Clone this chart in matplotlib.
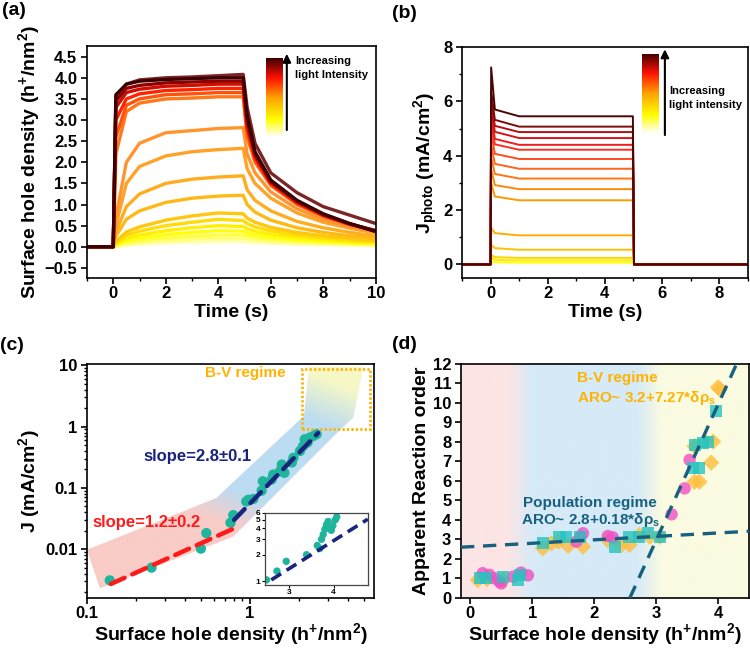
import numpy as np
import matplotlib.pyplot as plt
from matplotlib.colors import LinearSegmentedColormap, to_rgb
from matplotlib.patches import Polygon, Rectangle
from matplotlib.ticker import MultipleLocator, NullFormatter, NullLocator

plt.rcParams['font.family'] = ['Liberation Sans', 'DejaVu Sans']
plt.rcParams['font.weight'] = 'bold'
plt.rcParams['axes.labelweight'] = 'bold'
plt.rcParams['mathtext.fontset'] = 'custom'
plt.rcParams['mathtext.rm'] = 'Liberation Sans:bold'
plt.rcParams['mathtext.bf'] = 'Liberation Sans:bold'
plt.rcParams['mathtext.it'] = 'Liberation Sans:bold'
plt.rcParams['mathtext.default'] = 'bf'
plt.rcParams['axes.linewidth'] = 1.2
for ax_name in ['xtick', 'ytick']:
    plt.rcParams[ax_name + '.major.width'] = 1.2
    plt.rcParams[ax_name + '.minor.width'] = 1.0
    plt.rcParams[ax_name + '.major.size'] = 4
    plt.rcParams[ax_name + '.minor.size'] = 2.5
    plt.rcParams[ax_name + '.labelsize'] = 12
plt.rcParams['xtick.major.pad'] = 2
plt.rcParams['ytick.major.pad'] = 3
plt.rcParams['axes.labelsize'] = 14
plt.rcParams['axes.labelpad'] = 2

# ---------------- data ----------------
# (a) surface hole density traces (low -> high light intensity), read at t_a (s)
t_a = [0.1, 0.5, 1, 2, 3, 4, 4.95, 5.1, 5.4, 6, 7, 8, 9, 10]
sd_traces = [
    [0.01, 0.04, 0.06, 0.09, 0.11, 0.12, 0.12, 0.11, 0.10, 0.08, 0.06, 0.05, 0.04, 0.03],
    [0.02, 0.07, 0.10, 0.15, 0.18, 0.20, 0.20, 0.18, 0.16, 0.13, 0.10, 0.08, 0.06, 0.05],
    [0.03, 0.10, 0.15, 0.21, 0.25, 0.28, 0.28, 0.25, 0.22, 0.18, 0.14, 0.11, 0.08, 0.06],
    [0.05, 0.15, 0.21, 0.29, 0.34, 0.38, 0.37, 0.33, 0.29, 0.23, 0.17, 0.13, 0.10, 0.08],
    [0.07, 0.20, 0.28, 0.38, 0.45, 0.50, 0.48, 0.43, 0.37, 0.30, 0.22, 0.17, 0.13, 0.10],
    [0.10, 0.27, 0.37, 0.50, 0.58, 0.65, 0.62, 0.55, 0.47, 0.38, 0.28, 0.21, 0.16, 0.12],
    [0.13, 0.35, 0.47, 0.63, 0.73, 0.80, 0.78, 0.68, 0.58, 0.46, 0.34, 0.26, 0.20, 0.15],
    [0.25, 0.65, 0.85, 1.05, 1.15, 1.20, 1.22, 1.00, 0.82, 0.63, 0.45, 0.34, 0.26, 0.20],
    [0.35, 0.95, 1.25, 1.50, 1.60, 1.65, 1.68, 1.35, 1.10, 0.85, 0.60, 0.45, 0.34, 0.26],
    [0.50, 1.50, 1.90, 2.15, 2.25, 2.30, 2.33, 1.85, 1.50, 1.15, 0.80, 0.58, 0.44, 0.33],
    [0.70, 2.00, 2.45, 2.70, 2.75, 2.80, 2.82, 2.20, 1.75, 1.30, 0.90, 0.65, 0.48, 0.36],
    [2.20, 3.20, 3.40, 3.50, 3.52, 3.55, 3.55, 2.60, 2.00, 1.45, 1.00, 0.72, 0.52, 0.38],
    [2.60, 3.35, 3.50, 3.60, 3.62, 3.65, 3.65, 2.70, 2.05, 1.48, 1.02, 0.73, 0.53, 0.38],
    [3.00, 3.50, 3.62, 3.70, 3.72, 3.75, 3.75, 2.80, 2.10, 1.50, 1.04, 0.74, 0.54, 0.38],
    [3.30, 3.65, 3.73, 3.80, 3.82, 3.85, 3.85, 2.90, 2.15, 1.52, 1.06, 0.75, 0.54, 0.38],
    [3.45, 3.75, 3.82, 3.88, 3.90, 3.92, 3.92, 3.00, 2.20, 1.55, 1.08, 0.77, 0.55, 0.37],
    [3.60, 3.85, 3.92, 3.96, 3.98, 4.00, 4.00, 3.10, 2.25, 1.58, 1.10, 0.78, 0.55, 0.36],
]
sd_top_brown = [3.55, 3.85, 3.95, 4.00, 4.02, 4.05, 4.08, 3.30, 2.45, 1.75, 1.28, 0.95, 0.75, 0.55]

# (b) photocurrent: peak at switch-on, value at 0.15 s, steady value
j_steady = [0.07, 0.15, 0.24, 0.54, 1.07, 2.36, 2.77, 3.16, 3.52, 3.88, 4.22, 4.40, 4.65, 4.87, 5.07, 5.45]
j_early = [0.08, 0.17, 0.27, 0.60, 1.15, 2.50, 2.92, 3.33, 3.70, 4.07, 4.42, 4.62, 4.88, 5.10, 5.32, 5.70]
j_peak = [0.12, 0.25, 0.35, 0.72, 1.35, 3.00, 3.50, 3.95, 4.40, 4.85, 5.20, 5.50, 5.80, 6.10, 6.40, 7.25]

# (c) J vs surface hole density
rho_c = [0.138, 0.249, 0.50, 0.54, 0.76, 0.79, 0.95, 0.98, 1.05, 1.18, 1.20, 1.36, 1.39,
         1.53, 1.57, 1.63, 1.81, 1.85, 2.03, 2.12, 2.17, 2.22, 2.26, 2.33, 2.45, 2.57]
j_c = [0.0031, 0.0050, 0.0102, 0.0183, 0.027, 0.036, 0.060, 0.064, 0.066, 0.090, 0.128, 0.137, 0.165,
       0.187, 0.24, 0.176, 0.26, 0.31, 0.40, 0.48, 0.62, 0.62, 0.55, 0.66, 0.70, 0.75]
fit_low = (0.0286, 1.2, 0.14, 0.78)    # prefactor, slope, x from, x to
fit_high = (0.0554, 2.75, 0.80, 2.62)
# inset
ins_x = [2.60, 2.78, 2.95, 3.36, 3.60, 3.66, 3.70, 3.74, 3.78, 3.82, 3.86, 3.90, 3.94, 3.98, 4.04, 4.08]
ins_y = [1.03, 1.30, 1.68, 2.00, 2.55, 2.35, 3.00, 3.40, 3.90, 4.40, 4.80, 4.10, 3.80, 4.30, 5.00, 5.40]
ins_fit = (1.03, 2.68, 2.58, 4.98)     # y at x0, x0, slope, x end

# (d) apparent reaction order
circ_x = [0.20, 0.31, 0.39, 0.47, 0.50, 0.69, 0.82, 0.93, 1.71, 1.82, 1.78, 2.22, 2.30, 3.25, 3.46, 3.54]
circ_y = [1.27, 1.18, 1.01, 0.84, 0.75, 1.09, 1.30, 1.16, 2.89, 3.32, 3.14, 3.18, 3.11, 4.29, 5.62, 7.08]
sq_x = [0.15, 0.26, 0.53, 0.77, 0.80, 1.17, 1.44, 1.55, 1.77, 2.33, 2.57, 2.73, 2.87, 3.06,
        3.60, 3.70, 3.62, 3.76, 3.84, 3.97]
sq_y = [1.01, 1.01, 1.09, 0.92, 1.18, 2.80, 3.14, 3.14, 3.14, 2.63, 3.14, 3.14, 3.32, 3.14,
        6.65, 6.65, 7.85, 7.93, 8.02, 9.60]
dia_x = [0.12, 0.27, 0.53, 1.17, 1.31, 1.42, 1.58, 1.82, 2.22, 2.44, 2.57, 2.73, 2.90, 3.06,
         3.62, 3.70, 3.89, 3.62, 3.79, 3.92, 4.03, 4.00]
dia_y = [0.92, 0.97, 0.92, 2.55, 2.80, 2.89, 2.67, 2.63, 2.97, 2.72, 2.72, 3.23, 3.14, 3.14,
         5.96, 5.96, 6.94, 7.78, 8.02, 8.02, 10.7, 10.8]
pop_fit = (2.63, 0.176)     # intercept, slope
bv_fit = (2.575, 6.96)      # x at ARO=0, slope

# ---------------- figure ----------------
fig = plt.figure(figsize=(7.5, 6.49), dpi=100)
ax_a = fig.add_axes([0.116, 0.5716, 0.385, 0.358])
ax_b = fig.add_axes([0.616, 0.5716, 0.381, 0.356])
ax_c = fig.add_axes([0.116, 0.0786, 0.383, 0.3606])
ax_d = fig.add_axes([0.6147, 0.0786, 0.384, 0.3606])

for ax in [ax_a, ax_b, ax_c, ax_d]:
    ax.tick_params(which='both', direction='out', top=False, right=False)

bar_cmap = LinearSegmentedColormap.from_list(
    'bar', [(0, '#ffffff'), (0.22, '#ffff00'), (0.5, '#ffa000'), (0.75, '#ff1000'), (1, '#3c0000')])

# ----- (a) -----
cmap_a = LinearSegmentedColormap.from_list(
    'a', [(0, '#ffffb0'), (0.2, '#ffff00'), (0.4, '#ffc010'), (0.62, '#ff9830'),
          (0.72, '#ff6a10'), (0.82, '#ff2000'), (0.92, '#b00000'), (1, '#3c0000')])
t_full = [-1, 0] + t_a
ax_a.plot(t_full, [0, 0] + sd_top_brown, color='#7b2626', lw=2.4)
for i, row in enumerate(sd_traces):
    ax_a.plot(t_full, [0, 0] + row, color=cmap_a(i / (len(sd_traces) - 1)), lw=2.4)
ax_a.set_xlim(-1, 10)
ax_a.set_ylim(-0.74, 4.76)
ax_a.set_xticks([0, 2, 4, 6, 8, 10])
ax_a.xaxis.set_minor_locator(MultipleLocator(1))
ax_a.set_yticks(np.arange(-0.5, 4.51, 0.5))
ax_a.set_xlabel('Time (s)')
ax_a.set_ylabel('Surface hole density (h$^{+}$/nm$^{2}$)')

bar_a = ax_a.inset_axes([0.619, 0.607, 0.056, 0.34])
bar_a.imshow(np.linspace(0, 1, 256)[:, None], aspect='auto', origin='lower', cmap=bar_cmap)
bar_a.axis('off')
ax_a.annotate('', xy=(0.692, 0.965), xytext=(0.692, 0.637), xycoords='axes fraction',
              arrowprops=dict(arrowstyle='-|>', color='k', lw=1.5, mutation_scale=12,
                              shrinkA=0, shrinkB=0))
ax_a.text(0.72, 0.955, 'Increasing\nlight Intensity', transform=ax_a.transAxes,
          fontsize=8, va='top', ha='left', linespacing=1.45)

# ----- (b) -----
cmap_b = LinearSegmentedColormap.from_list(
    'b', [(0, '#ffff00'), (0.2, '#ffc000'), (0.35, '#ff9500'), (0.55, '#ff6020'),
          (0.7, '#ff2020'), (0.85, '#c01010'), (1, '#4a0505')])
t_b = [-1, 0, 0.02, 0.15, 1.0, 4.98, 5.02, 9]
for i in range(len(j_steady)):
    vals = [0, 0, j_peak[i], j_early[i], j_steady[i], j_steady[i], 0, 0]
    ax_b.plot(t_b, vals, color=cmap_b(i / (len(j_steady) - 1)), lw=1.4)
ax_b.set_xlim(-1, 9)
ax_b.set_ylim(-0.5, 8)
ax_b.set_xticks([0, 2, 4, 6, 8])
ax_b.xaxis.set_minor_locator(MultipleLocator(1))
ax_b.set_yticks([0, 2, 4, 6, 8])
ax_b.yaxis.set_minor_locator(MultipleLocator(1))
ax_b.set_xlabel('Time (s)')
ax_b.set_ylabel('J$_{photo}$ (mA/cm$^{2}$)')

bar_b = ax_b.inset_axes([0.629, 0.628, 0.056, 0.342])
bar_b.imshow(np.linspace(0, 1, 256)[:, None], aspect='auto', origin='lower', cmap=bar_cmap)
bar_b.axis('off')
ax_b.annotate('', xy=(0.71, 0.99), xytext=(0.71, 0.619), xycoords='axes fraction',
              arrowprops=dict(arrowstyle='-|>', color='k', lw=1.5, mutation_scale=12,
                              shrinkA=0, shrinkB=0))
ax_b.text(0.724, 0.83, 'Increasing\nlight intensity', transform=ax_b.transAxes,
          fontsize=8, va='top', ha='left', linespacing=1.45)

# ----- (c) -----
ax_c.set_xscale('log')
ax_c.set_yscale('log')
ax_c.set_xlim(0.1, 5.8)
ax_c.set_ylim(0.0016, 10.5)
ax_c.set_autoscale_on(False)

band = Polygon([(0.1, 0.0098), (0.62, 0.068), (2.15, 1.5), (2.3, 9.5), (4.97, 9.5),
                (4.31, 1.40), (3.6, 0.9), (0.79, 0.016), (0.12, 0.0023)],
               closed=True, facecolor='none', edgecolor='none', transform=ax_c.transData)
ax_c.add_patch(band)
gx, gy = np.meshgrid(np.linspace(0, 1, 300), np.linspace(0, 1, 300))
s = 0.5 * gx + gy
stops = [-1, 0.55, 0.72, 1.15, 1.35, 3]
cols = [to_rgb(c) for c in ['#f9ccc7', '#f9ccc7', '#bcdcf2', '#bcdcf2', '#f6f8c6', '#f6f8c6']]
img = np.dstack([np.interp(s, stops, [c[k] for c in cols]) for k in range(3)])
im = ax_c.imshow(img, extent=[0, 1, 0, 1], transform=ax_c.transAxes, origin='lower',
                 aspect='auto', zorder=0.5, interpolation='bilinear')
im.set_clip_path(band)

ax_c.add_patch(Rectangle((2.08, 0.90), 5.46 - 2.08, 8.7 - 0.90, fill=False, ec='#ffb300',
                         lw=2, ls=(0, (0.8, 0.8)), zorder=2))
ax_c.scatter(rho_c, j_c, s=55, color='#1fb59d', edgecolors='none', zorder=3)
for (a, k, x0, x1), col in [(fit_low, '#ff1a1a'), (fit_high, '#1a237e')]:
    xx = np.geomspace(x0, x1, 50)
    ax_c.plot(xx, a * xx ** k, color=col, lw=3.2, dashes=(3.4, 1.9), zorder=4,
              dash_capstyle='round')
ax_c.set_xticks([0.1, 1], ['0.1', '1'])
ax_c.set_yticks([0.01, 0.1, 1, 10], ['0.01', '0.1', '1', '10'])
ax_c.xaxis.set_minor_formatter(NullFormatter())
ax_c.yaxis.set_minor_formatter(NullFormatter())
ax_c.set_xlim(0.1, 5.8)
ax_c.set_ylim(0.0016, 10.5)
ax_c.set_xlabel('Surface hole density (h$^{+}$/nm$^{2}$)', labelpad=0)
ax_c.set_ylabel('J (mA/cm$^{2}$)')
ax_c.text(0.53, 7.5, 'B-V regime', color='#ffb300', fontsize=11, va='center', ha='left')
ax_c.text(0.48, 0.33, 'slope=2.8±0.1', color='#1a237e', fontsize=12, va='center', ha='center')
ax_c.text(0.233, 0.027, 'slope=1.2±0.2', color='#ff1a1a', fontsize=12, va='center', ha='center')

ins = fig.add_axes([0.353, 0.0986, 0.137, 0.111])
ins.set_xscale('log')
ins.set_yscale('log')
ins.scatter(ins_x, ins_y, s=28, color='#1fb59d', edgecolors='none', zorder=2)
y0, x0, k, x1 = ins_fit
xx = np.geomspace(x0, x1, 30)
ins.plot(xx, y0 * (xx / x0) ** k, color='#1a237e', lw=2.6, dashes=(3.2, 1.8), zorder=3)
ins.set_xlim(2.57, 4.97)
ins.set_ylim(0.9, 6)
ins.set_xticks([3, 4], ['3', '4'])
ins.set_yticks([1, 2, 3, 4, 5, 6], ['1', '2', '3', '4', '5', '6'])
ins.xaxis.set_minor_locator(NullLocator())
ins.yaxis.set_minor_locator(NullLocator())
ins.tick_params(labelsize=6, length=2, width=0.8, pad=1)
for sp in ins.spines.values():
    sp.set_linewidth(0.9)
    sp.set_color('#444444')

# ----- (d) -----
xlim_d = (-0.15, 4.5)
ax_d.set_xlim(*xlim_d)
ax_d.set_ylim(0, 12)
bx = np.linspace(xlim_d[0], xlim_d[1], 500)
bstops = [xlim_d[0], 0.6, 1.0, 2.7, 3.1, xlim_d[1]]
bcols = [to_rgb(c) for c in ['#fde5e5', '#fde5e5', '#d6eaf7', '#d6eaf7', '#fbfbe1', '#fbfbe1']]
bg = np.dstack([np.interp(bx, bstops, [c[k] for c in bcols])[None, :] for k in range(3)])
ax_d.imshow(bg, extent=[xlim_d[0], xlim_d[1], 0, 12], aspect='auto', origin='lower', zorder=0)

ax_d.scatter(dia_x, dia_y, s=70, marker='D', color='#ffbe3d', alpha=0.8, edgecolors='none', zorder=2)
ax_d.scatter(circ_x, circ_y, s=80, marker='o', color='#f04fc4', alpha=0.8, edgecolors='none', zorder=3)
ax_d.scatter(sq_x, sq_y, s=75, marker='s', color='#26c4c0', alpha=0.8, edgecolors='none', zorder=4)

px = np.array(xlim_d)
ax_d.plot(px, pop_fit[0] + pop_fit[1] * px, color='#17607f', lw=2.4, dashes=(4, 2.6), zorder=5)
bvx = np.array([bv_fit[0], bv_fit[0] + 12 / bv_fit[1]])
ax_d.plot(bvx, bv_fit[1] * (bvx - bv_fit[0]), color='#17607f', lw=2.4, dashes=(4, 2.6), zorder=5)

ax_d.set_xlim(*xlim_d)
ax_d.set_ylim(0, 12)
ax_d.set_xticks([0, 1, 2, 3, 4])
ax_d.set_yticks(range(0, 13))
ax_d.set_xlabel('Surface hole density (h$^{+}$/nm$^{2}$)', labelpad=0)
ax_d.set_ylabel('Apparent Reaction order')
ax_d.text(1.73, 11.28, 'B-V regime', color='#ffb300', fontsize=11, va='center', ha='left')
ax_d.text(1.73, 10.26, 'ARO~ 3.2+7.27*δρ$_{s}$', color='#ffb300', fontsize=11, va='center', ha='left')
ax_d.text(0.85, 4.87, 'Population regime', color='#17607f', fontsize=11, va='center', ha='left')
ax_d.text(0.82, 3.98, 'ARO~ 2.8+0.18*δρ$_{s}$', color='#17607f', fontsize=11, va='center', ha='left')

# panel labels
fig.text(0.003, 0.997, '(a)', fontsize=14, va='top', ha='left')
fig.text(0.523, 0.992, '(b)', fontsize=14, va='top', ha='left')
fig.text(0.0, 0.481, '(c)', fontsize=14, va='top', ha='left')
fig.text(0.523, 0.483, '(d)', fontsize=14, va='top', ha='left')

fig.savefig('out.png', dpi=100)
